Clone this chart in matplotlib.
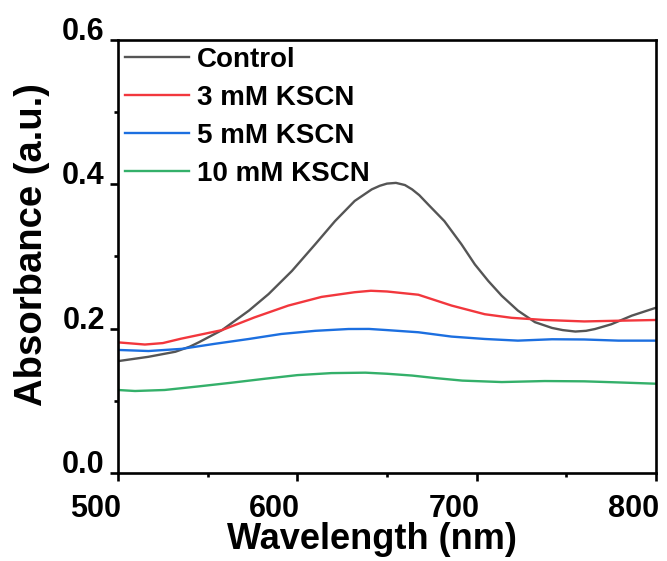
import matplotlib
matplotlib.use("Agg")
import matplotlib.pyplot as plt
import matplotlib.transforms as mtransforms
from matplotlib.ticker import MultipleLocator, FormatStrFormatter

plt.rcParams["font.family"] = ["Liberation Sans", "DejaVu Sans"]
plt.rcParams["font.weight"] = "bold"

# ── data ───────────────────────────────────────────────────────────────────────
wl_control = [500, 517, 532, 540, 545, 558, 573, 584, 597, 610, 621, 632, 641.5,
              646, 650, 655, 660, 664, 668, 673, 682, 691.5, 699, 706.5, 714,
              723, 732.5, 742, 748, 755, 761, 766, 775, 786.5, 800]
abs_control = [0.155, 0.161, 0.168, 0.175, 0.181, 0.198, 0.225, 0.248, 0.280,
               0.317, 0.349, 0.377, 0.393, 0.398, 0.401, 0.402, 0.399, 0.393,
               0.385, 0.372, 0.349, 0.317, 0.289, 0.266, 0.2455, 0.225, 0.209,
               0.201, 0.198, 0.196, 0.197, 0.1995, 0.206, 0.218, 0.229]

wl_3mm = [500, 515, 525, 535, 558, 576, 595, 613.5, 632, 641, 650, 667.5, 686,
          704.5, 719.5, 738, 760, 779, 800]
abs_3mm = [0.181, 0.178, 0.180, 0.186, 0.198, 0.2155, 0.232, 0.244, 0.2505,
           0.2525, 0.2515, 0.247, 0.232, 0.220, 0.215, 0.212, 0.210, 0.211,
           0.212]

wl_5mm = [500, 517, 535.5, 554, 573, 591, 610, 628.5, 640, 650, 667.5, 686,
          704.5, 723, 742, 760, 779, 800]
abs_5mm = [0.1705, 0.169, 0.172, 0.179, 0.1857, 0.1926, 0.197, 0.1995, 0.1996,
           0.198, 0.195, 0.189, 0.1857, 0.1834, 0.1853, 0.185, 0.1834, 0.1834]

wl_10mm = [500, 509.5, 526, 545, 563, 582, 600, 619, 638, 650, 664, 677, 692,
           714, 738, 760, 779, 800]
abs_10mm = [0.115, 0.1136, 0.115, 0.120, 0.125, 0.1306, 0.1356, 0.1384, 0.139,
            0.1375, 0.135, 0.1315, 0.128, 0.126, 0.1274, 0.127, 0.1255, 0.1237]

labels = ["Control", "3 mM KSCN", "5 mM KSCN", "10 mM KSCN"]
colors = ["#555555", "#f2373d", "#1c6fe0", "#34b06a"]

# ── figure ─────────────────────────────────────────────────────────────────────
fig = plt.figure(figsize=(6.67, 5.61), dpi=100)
ax = fig.add_axes([0.1769, 0.1569, 0.8066, 0.7718])

series = [(wl_control, abs_control), (wl_3mm, abs_3mm),
          (wl_5mm, abs_5mm), (wl_10mm, abs_10mm)]
for (x, y), lab, c in zip(series, labels, colors):
    ax.plot(x, y, color=c, linewidth=1.7, label=lab)

ax.set_xlim(500, 800)
ax.set_ylim(0, 0.6)
ax.xaxis.set_major_locator(MultipleLocator(100))
ax.xaxis.set_minor_locator(MultipleLocator(50))
ax.yaxis.set_major_locator(MultipleLocator(0.2))
ax.yaxis.set_minor_locator(MultipleLocator(0.1))
ax.yaxis.set_major_formatter(FormatStrFormatter("%.1f"))

for s in ax.spines.values():
    s.set_linewidth(1.9)
ax.tick_params(which="major", direction="out", length=6, width=1.9,
               labelsize=22, top=False, right=False)
ax.tick_params(which="minor", direction="out", length=3, width=1.9,
               top=False, right=False)
ax.tick_params(axis="x", which="major", pad=9)
ax.tick_params(axis="y", which="major", pad=3.5)

# tick labels in the reference sit right/bottom-aligned to their ticks
shift = mtransforms.ScaledTranslation(3 / 100, 0, fig.dpi_scale_trans)
for lab in ax.get_xticklabels():
    lab.set_ha("right")
    lab.set_transform(lab.get_transform() + shift)
for lab in ax.get_yticklabels():
    lab.set_va("baseline")

ax.set_xlabel("Wavelength (nm)", fontsize=26, fontweight="bold")
ax.set_ylabel("Absorbance (a.u.)", fontsize=27.5, fontweight="bold")
ax.xaxis.set_label_coords(0.472, -0.113)
ax.yaxis.set_label_coords(-0.127, 0.527)

ax.legend(loc="upper left", bbox_to_anchor=(0.0, 1.0), frameon=False,
          fontsize=20, handlelength=2.3, handletextpad=0.3, labelspacing=0.43,
          borderaxespad=0.15, borderpad=0.1)

fig.savefig("out.png", dpi=100)
